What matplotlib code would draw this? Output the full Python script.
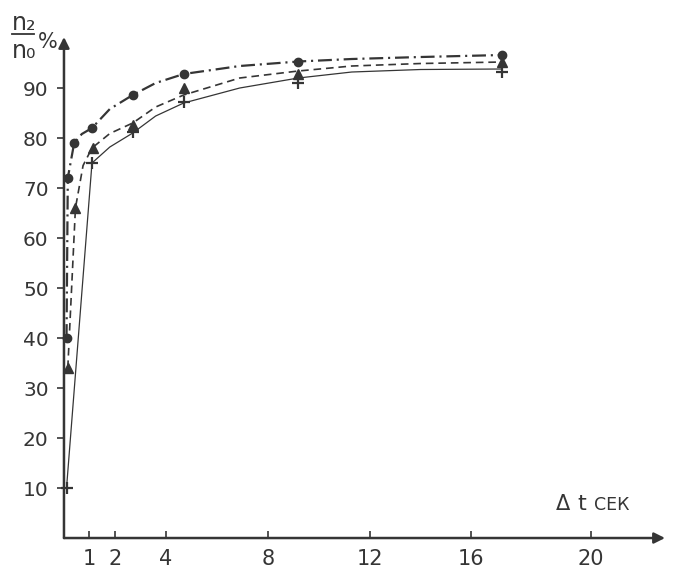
"""
n2/n0 (%) vs delta t (сек) — three series, scanned-style line chart
"""
import matplotlib
matplotlib.use("Agg")
import matplotlib.pyplot as plt
from matplotlib.lines import Line2D

plt.rcParams["font.family"] = ["DejaVu Sans"]
plt.rcParams["lines.scale_dashes"] = False

ink = "#353535"

# ---- data ----
# markers
circ_t = [0.1, 0.15, 0.4, 1.1, 2.7, 4.7, 9.2, 17.2]
circ_y = [40, 72, 79, 82, 88.6, 92.8, 95.3, 96.6]
tri_t = [0.15, 0.45, 1.15, 2.7, 4.7, 9.2, 17.2]
tri_y = [34, 66, 78, 82.6, 90, 92.8, 95.2]
plus_t = [0.1, 1.1, 2.7, 4.7, 9.2, 17.2]
plus_y = [10, 75, 81.2, 87.2, 91, 93.2]

# curves as drawn
dashdot_t = [0.1, 0.15, 0.4, 0.7, 1.1, 1.8, 2.7, 3.6, 4.7, 6.9, 9.2, 11.3, 14.0, 17.2]
dashdot_y = [40, 72, 79, 80.8, 82, 85.8, 88.6, 91.0, 92.8, 94.4, 95.3, 95.8, 96.2, 96.6]
dashed_t = [0.15, 0.45, 0.75, 1.1, 1.8, 2.7, 3.6, 4.7, 6.9, 9.2, 11.3, 14.0, 17.2]
dashed_y = [34, 66, 74.5, 78, 80.9, 83, 86.2, 88.6, 92, 93.4, 94.4, 94.9, 95.2]
solid_t = [0.1, 1.1, 1.8, 2.7, 3.6, 4.7, 6.9, 9.2, 11.3, 14.0, 17.2]
solid_y = [10, 75, 78.2, 81, 84.4, 87, 90, 92, 93.2, 93.7, 93.8]

xticks = [1, 2, 4, 8, 12, 16, 20.7]   # the "20" tick sits a bit right in the original
xtick_labels = ["1", "2", "4", "8", "12", "16", "20"]
yticks = [10, 20, 30, 40, 50, 60, 70, 80, 90]

fig = plt.figure(figsize=(6.77, 5.72), dpi=100)
ax = fig.add_axes([0.0945, 0.0594, 0.8878, 0.8759])
ax.set_xlim(0, 23.6)
ax.set_ylim(0, 100.2)

ax.plot(dashdot_t, dashdot_y, color=ink, lw=1.6, dashes=(10, 3.5, 1.5, 3.5))
ax.plot(dashed_t, dashed_y, color=ink, lw=1.2, dashes=(5.5, 3.5))
ax.plot(solid_t, solid_y, color=ink, lw=0.9)

ax.plot(circ_t, circ_y, "o", color=ink, ms=6, clip_on=False)
ax.plot(tri_t, tri_y, "^", color=ink, ms=6.5, clip_on=False)
ax.plot(plus_t, plus_y, "+", color=ink, ms=8, mew=1.6, clip_on=False)

# axes as arrows
for s in ax.spines.values():
    s.set_visible(False)
ax.annotate("", xy=(1, 0), xytext=(0, 0), xycoords="axes fraction",
            arrowprops=dict(arrowstyle="-|>", lw=1.8, color=ink, mutation_scale=16,
                            shrinkA=0, shrinkB=0))
ax.annotate("", xy=(0, 1), xytext=(0, 0), xycoords="axes fraction",
            arrowprops=dict(arrowstyle="-|>", lw=1.8, color=ink, mutation_scale=16,
                            shrinkA=0, shrinkB=0))

ax.set_xticks(xticks)
ax.set_xticklabels(xtick_labels)
ax.set_yticks(yticks)
ax.tick_params(axis="x", direction="in", length=5, width=1.2, color=ink,
               labelcolor=ink, labelsize=15, pad=8)
ax.tick_params(axis="y", direction="out", length=5, width=1.2, color=ink,
               labelcolor=ink, labelsize=14.5, pad=6)

# y label: n2 / n0 %
fig.text(12 / 677, 1 - 30 / 572, "n₂", fontsize=17, color=ink, ha="left", va="baseline")
fig.text(12 / 677, 1 - 58 / 572, "n₀", fontsize=17, color=ink, ha="left", va="baseline")
fig.add_artist(Line2D([12 / 677, 34 / 677], [1 - 34 / 572, 1 - 34 / 572],
                      color=ink, lw=1.3))
fig.text(38 / 677, 1 - 48 / 572, "%", fontsize=15, color=ink, ha="left", va="baseline")

# x label: Δt сек
fig.text(556 / 677, 1 - 510 / 572, "Δ", fontsize=15, color=ink, ha="left", va="baseline")
fig.text(577 / 677, 1 - 510 / 572, "t", fontsize=16, color=ink, ha="left", va="baseline")
fig.text(594 / 677, 1 - 510 / 572, "СЕК", fontsize=12.5, color=ink, ha="left", va="baseline")

fig.savefig("out.png", dpi=100, facecolor="white")
plt.close(fig)
print("[OK] out.png")
